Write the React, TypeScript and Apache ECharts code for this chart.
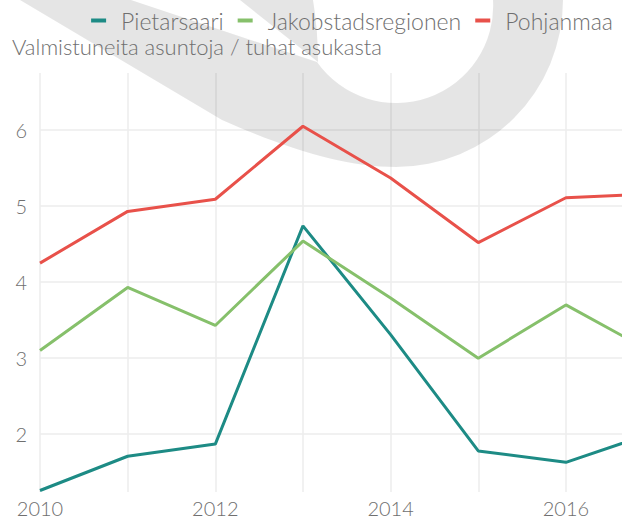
import React, { useEffect, useRef } from 'react';
import * as echarts from 'echarts';

// ---- data ----
const years = [2010, 2011, 2012, 2013, 2014, 2015, 2016, 2017];
const pietarsaari = [1.26, 1.71, 1.87, 4.74, 3.31, 1.78, 1.63, 2.02];
const jakobstadsregionen = [3.1, 3.93, 3.43, 4.54, 3.79, 3.0, 3.7, 3.07];
const pohjanmaa = [4.25, 4.93, 5.09, 6.05, 5.37, 4.52, 5.11, 5.16];
const seriesNames = ['Pietarsaari', 'Jakobstadsregionen', 'Pohjanmaa'];
const seriesColors = ['#1d8b85', '#86c06b', '#e8514a'];
const yTickLabels = [2, 3, 4, 5, 6];
const xTickLabels = [2010, 2012, 2014, 2016];
const yAxisTitle = 'Valmistuneita asuntoja / tuhat asukasta';

// ---- watermark shapes (decoration) ----
const hookPath =
  'M 20 0 L 131 0 L 317 62 A 97 97 0 0 0 493 0 L 563 0 A 167 167 0 0 1 396 167 ' +
  'C 345 167 290 150 222 120 Z';
const tipPath = 'M 240 0 L 313 0 Q 318 30 318 62 Z';
let registered = false;
function registerShapes() {
  if (registered) return;
  registered = true;
  echarts.graphic.registerShape('wmHook', echarts.graphic.extendPath(hookPath, {}));
  echarts.graphic.registerShape('wmTip', echarts.graphic.extendPath(tipPath, {}));
}

const FONT = 'Lato, "Noto Sans", sans-serif';
const TEXT_COLOR = '#6f6f6f';

export default function App() {
  const ref = useRef<HTMLDivElement>(null);
  useEffect(() => {
    if (!ref.current) return;
    registerShapes();
    const chart = echarts.init(ref.current, undefined, { renderer: 'svg' });
    const dataSets = [pietarsaari, jakobstadsregionen, pohjanmaa];
    const option: any = {
      animation: false,
      backgroundColor: '#ffffff',
      textStyle: { fontFamily: FONT },
      legend: {
        data: seriesNames,
        right: 4,
        top: 4,
        icon: 'rect',
        itemWidth: 15,
        itemHeight: 4,
        itemGap: 14,
        textStyle: {
          fontFamily: FONT,
          fontSize: 23,
          fontWeight: 300,
          lineHeight: 23,
          color: TEXT_COLOR,
          padding: [0, 0, 0, 10],
        },
      },
      grid: { left: 40, right: 0, top: 73, bottom: 27, containLabel: false },
      xAxis: {
        type: 'value',
        min: 2010,
        max: 2016.64,
        minInterval: 1,
        maxInterval: 1,
        axisLine: { show: false },
        axisTick: { show: false },
        axisLabel: {
          showMaxLabel: false,
          margin: 6,
          fontFamily: FONT,
          fontSize: 20,
          fontWeight: 300,
          lineHeight: 20,
          color: TEXT_COLOR,
          formatter: (v: number) => (xTickLabels.includes(v) ? String(v) : ''),
        },
        splitLine: { show: true, showMaxLine: false, lineStyle: { color: '#ededed', width: 1.5 } },
      },
      yAxis: {
        type: 'value',
        min: 1.24,
        max: 6.75,
        minInterval: 1,
        maxInterval: 1,
        axisLine: { show: false },
        axisTick: { show: false },
        axisLabel: {
          showMinLabel: false,
          showMaxLabel: false,
          margin: 13,
          fontFamily: FONT,
          fontSize: 20,
          fontWeight: 300,
          color: TEXT_COLOR,
          formatter: (v: number) => (yTickLabels.includes(v) ? String(v) : ''),
        },
        splitLine: {
          show: true,
          showMinLine: false,
          showMaxLine: false,
          lineStyle: { color: '#ededed', width: 1.5 },
        },
      },
      graphic: [
        {
          type: 'wmHook',
          x: 0,
          y: 0,
          z: 1,
          silent: true,
          style: { fill: 'rgba(0,0,0,0.1)' },
        },
        {
          type: 'wmTip',
          x: 0,
          y: 0,
          z: 1,
          silent: true,
          style: { fill: 'rgba(0,0,0,0.1)' },
        },
        {
          type: 'text',
          left: 12,
          top: 35,
          z: 5,
          style: {
            text: yAxisTitle,
            fontFamily: FONT,
            fontSize: 22,
            fontWeight: 300,
            lineHeight: 22,
            fill: TEXT_COLOR,
          },
        },
      ],
      series: seriesNames.map((name, i) => ({
        name,
        type: 'line',
        data: years.map((y, j) => [y, dataSets[i][j]]),
        symbol: 'none',
        clip: true,
        z: 3,
        itemStyle: { color: seriesColors[i] },
        lineStyle: { color: seriesColors[i], width: 3 },
      })),
    };
    chart.setOption(option);
    return () => chart.dispose();
  }, []);
  return (
    <div
      ref={ref}
      style={{ position: 'absolute', left: 0, top: 0, width: 622, height: 519 }}
    />
  );
}
